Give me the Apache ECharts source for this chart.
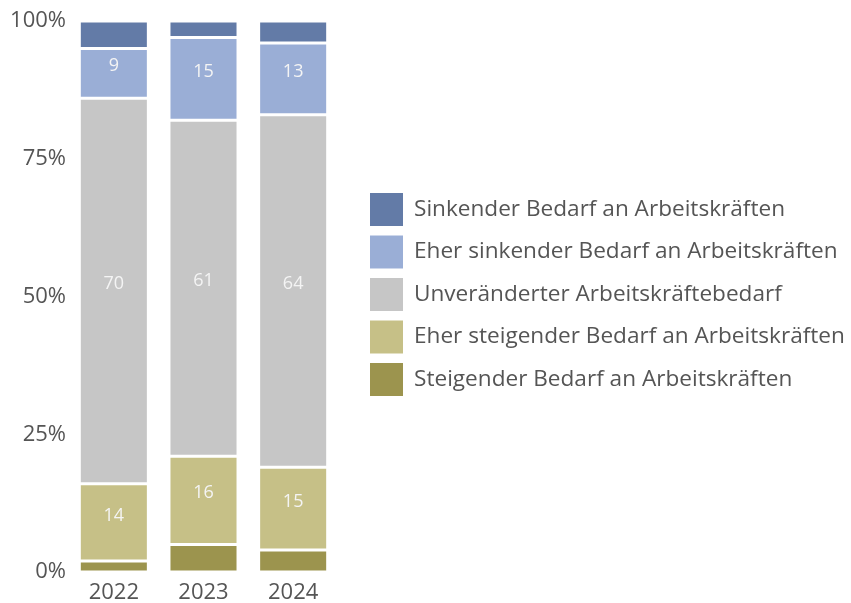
<!DOCTYPE html>
<html>
<head>
<meta charset="utf-8">
<script src="https://cdn.jsdelivr.net/npm/echarts@6/dist/echarts.min.js"></script>
<style>
  html, body { margin: 0; padding: 0; background: #fff; }
  #chart { width: 851px; height: 603px; }
</style>
</head>
<body>
<div id="chart"></div>
<script>
const years = ['2022', '2023', '2024']
const yTicks = [0, 25, 50, 75, 100]
// von unten nach oben gestapelt
const steigend = [2, 5, 4]
const eherSteigend = [14, 16, 15]
const unveraendert = [70, 61, 64]
const eherSinkend = [9, 15, 13]
const sinkend = [5, 3, 4]

const font = 'Open Sans'
const textColor = '#555'

// label nur bei den drei mittleren Reihen
const makeSeries = (name, data, color, showLabel) => ({
  name,
  type: 'bar',
  stack: 'total',
  data,
  barCategoryGap: '23%',
  itemStyle: {
    color,
    borderColor: '#fff',
    borderWidth: 1.5
  },
  label: {
    show: showLabel,
    position: 'inside',
    offset: [0, -7],
    color: '#f4f4f4',
    fontFamily: font,
    fontSize: 18
  }
})

const chart = echarts.init(document.getElementById('chart'))
chart.setOption({
  animation: false,
  grid: {
    top: 21,
    bottom: 31,
    left: 69,
    right: 513,
    outerBoundsMode: 'none'
  },
  xAxis: {
    type: 'category',
    data: years,
    axisLine: { show: false },
    axisTick: { show: false },
    axisLabel: {
      color: textColor,
      fontFamily: font,
      fontSize: 22,
      margin: 10
    }
  },
  yAxis: {
    type: 'value',
    min: yTicks[0],
    max: yTicks[yTicks.length - 1],
    interval: 25,
    splitLine: { show: false },
    axisLabel: {
      color: textColor,
      fontFamily: font,
      fontSize: 22,
      margin: 3,
      padding: [5, 0, 0, 0],
      formatter: '{value}%'
    }
  },
  legend: {
    orient: 'vertical',
    left: 368,
    top: 191,
    padding: 0,
    itemWidth: 35,
    itemHeight: 35,
    itemGap: 5.5,
    icon: 'rect',
    textStyle: {
      color: textColor,
      fontFamily: font,
      fontSize: 22.6,
      padding: [3, 0, 0, 5]
    },
    data: [
      'Sinkender Bedarf an Arbeitskräften',
      'Eher sinkender Bedarf an Arbeitskräften',
      'Unveränderter Arbeitskräftebedarf',
      'Eher steigender Bedarf an Arbeitskräften',
      'Steigender Bedarf an Arbeitskräften'
    ]
  },
  series: [
    makeSeries('Steigender Bedarf an Arbeitskräften', steigend, '#9c944e', false),
    makeSeries('Eher steigender Bedarf an Arbeitskräften', eherSteigend, '#c6c087', true),
    makeSeries('Unveränderter Arbeitskräftebedarf', unveraendert, '#c6c6c6', true),
    makeSeries('Eher sinkender Bedarf an Arbeitskräften', eherSinkend, '#9aaed6', true),
    makeSeries('Sinkender Bedarf an Arbeitskräften', sinkend, '#637ba7', false)
  ]
})
</script>
</body>
</html>
